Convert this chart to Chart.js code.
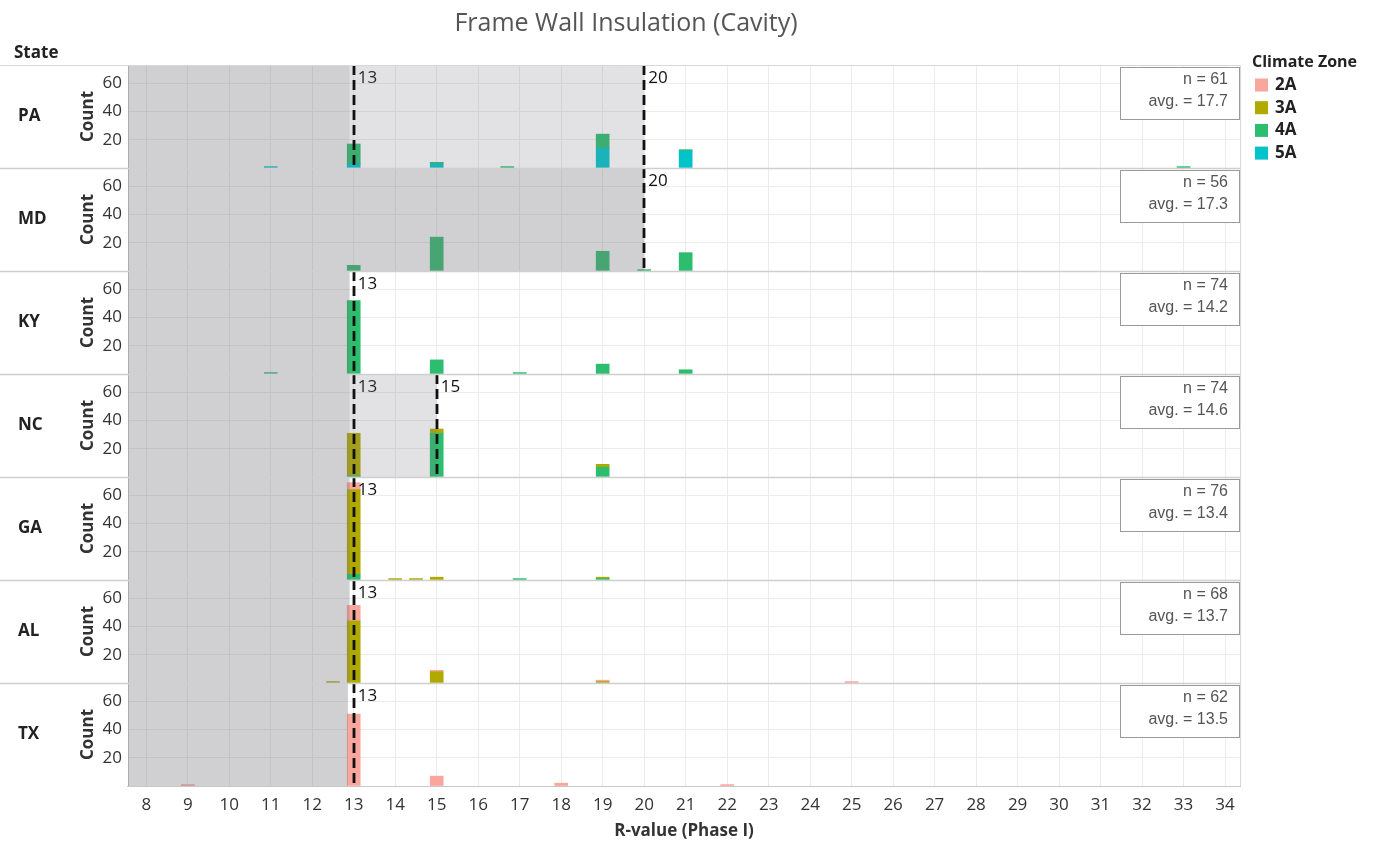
<!DOCTYPE html>
<html>
<head>
<meta charset="utf-8">
<title>Frame Wall Insulation (Cavity)</title>
<script src="https://cdn.jsdelivr.net/npm/chart.js@4.4.1/dist/chart.umd.min.js"></script>
<style>
  html, body { margin: 0; padding: 0; background: #fff; }
  #wrap { width: 1373px; height: 844px; position: relative; }
</style>
</head>
<body>
<div id="wrap"><canvas id="chart"></canvas></div>
<script>
// ---- data ----
const chartTitle = 'Frame Wall Insulation (Cavity)';
const states = ['PA', 'MD', 'KY', 'NC', 'GA', 'AL', 'TX'];
const zones = ['2A', '3A', '4A', '5A'];
const zoneColors = ['#f9a69d', '#b0a900', '#2dbd6e', '#00c4c9'];

// R-value bins that hold at least one home
const rBins = [9, 11, 12.5, 13, 14, 14.5, 15, 16.7, 17, 18, 19, 20, 21, 22, 25, 33];

// counts per climate zone (rows 2A, 3A, 4A, 5A), aligned with rBins
const countsPA = [
  [0, 0, 0, 0, 0, 0, 0, 0, 0, 0, 0, 0, 0, 0, 0, 0],
  [0, 0, 0, 0, 0, 0, 0, 0, 0, 0, 0, 0, 0, 0, 0, 0],
  [0, 0, 0, 14, 0, 0, 1, 1, 0, 0, 10, 0, 1, 0, 0, 1],
  [0, 1, 0, 3, 0, 0, 3, 0, 0, 0, 14, 0, 12, 0, 0, 0]
];
const countsMD = [
  [0, 0, 0, 0, 0, 0, 0, 0, 0, 0, 0, 0, 0, 0, 0, 0],
  [0, 0, 0, 0, 0, 0, 0, 0, 0, 0, 0, 0, 0, 0, 0, 0],
  [0, 0, 0, 4, 0, 0, 24, 0, 0, 0, 14, 1, 13, 0, 0, 0],
  [0, 0, 0, 0, 0, 0, 0, 0, 0, 0, 0, 0, 0, 0, 0, 0]
];
const countsKY = [
  [0, 0, 0, 0, 0, 0, 0, 0, 0, 0, 0, 0, 0, 0, 0, 0],
  [0, 0, 0, 0, 0, 0, 0, 0, 0, 0, 0, 0, 0, 0, 0, 0],
  [0, 1, 0, 52, 0, 0, 10, 0, 1, 0, 7, 0, 3, 0, 0, 0],
  [0, 0, 0, 0, 0, 0, 0, 0, 0, 0, 0, 0, 0, 0, 0, 0]
];
const countsNC = [
  [0, 0, 0, 0, 0, 0, 0, 0, 0, 0, 0, 0, 0, 0, 0, 0],
  [0, 0, 0, 30, 0, 0, 3, 0, 0, 0, 2, 0, 0, 0, 0, 0],
  [0, 0, 0, 1, 0, 0, 31, 0, 0, 0, 7, 0, 0, 0, 0, 0],
  [0, 0, 0, 0, 0, 0, 0, 0, 0, 0, 0, 0, 0, 0, 0, 0]
];
const countsGA = [
  [0, 0, 0, 5, 0, 0, 0, 0, 0, 0, 0, 0, 0, 0, 0, 0],
  [0, 0, 0, 60, 1, 1, 2, 0, 0, 0, 1, 0, 0, 0, 0, 0],
  [0, 0, 0, 4, 0, 0, 0, 0, 1, 0, 1, 0, 0, 0, 0, 0],
  [0, 0, 0, 0, 0, 0, 0, 0, 0, 0, 0, 0, 0, 0, 0, 0]
];
const countsAL = [
  [0, 0, 0, 11, 0, 0, 1, 0, 0, 0, 1, 0, 0, 0, 1, 0],
  [0, 0, 1, 44, 0, 0, 8, 0, 0, 0, 1, 0, 0, 0, 0, 0],
  [0, 0, 0, 0, 0, 0, 0, 0, 0, 0, 0, 0, 0, 0, 0, 0],
  [0, 0, 0, 0, 0, 0, 0, 0, 0, 0, 0, 0, 0, 0, 0, 0]
];
const countsTX = [
  [1, 0, 0, 51, 0, 0, 7, 0, 0, 2, 0, 0, 0, 1, 0, 0],
  [0, 0, 0, 0, 0, 0, 0, 0, 0, 0, 0, 0, 0, 0, 0, 0],
  [0, 0, 0, 0, 0, 0, 0, 0, 0, 0, 0, 0, 0, 0, 0, 0],
  [0, 0, 0, 0, 0, 0, 0, 0, 0, 0, 0, 0, 0, 0, 0, 0]
];
const countsByState = [countsPA, countsMD, countsKY, countsNC, countsGA, countsAL, countsTX];

// code minimum lines and shaded bands (R-value)
const refLines = [[13, 20], [20], [13], [13, 15], [13], [13], [13]];
const darkBandEnd = [12.9, 20, 12.9, 12.9, 12.9, 12.9, 12.86];
const lightBandEnd = [20, null, null, 15, null, null, null];

const nValues = [61, 56, 74, 74, 76, 68, 62];
const avgValues = [17.7, 17.3, 14.2, 14.6, 13.4, 13.7, 13.5];

const rTicks = [8, 9, 10, 11, 12, 13, 14, 15, 16, 17, 18, 19, 20, 21, 22, 23, 24, 25, 26, 27, 28, 29, 30, 31, 32, 33, 34];
const countTicks = [0, 20, 40, 60];

// ---- build datasets ----
const FONT = '"Open Sans", "Noto Sans", sans-serif';
Chart.defaults.font.family = FONT;
Chart.defaults.color = '#333';

const datasets = [];
states.forEach((st, si) => {
  // 5A at the bottom of each stack, 2A on top
  [3, 2, 1, 0].forEach(zi => {
    const pts = [];
    rBins.forEach((r, bi) => {
      const c = countsByState[si][zi][bi];
      if (c > 0) pts.push({ x: r, y: c });
    });
    if (!pts.length) return;
    datasets.push({
      label: zones[zi],
      data: pts,
      yAxisID: 'y' + st,
      stack: 'zones',
      backgroundColor: zoneColors[zi],
      borderWidth: 0,
      barThickness: 13
    });
  });
});

const scales = {
  x: {
    type: 'linear',
    position: 'bottom',
    min: 7.56,
    max: 34.36,
    offset: false,
    afterBuildTicks: s => { s.ticks = rTicks.map(v => ({ value: v })); },
    afterFit: s => { s.height = 58; },
    grid: { color: '#ececec', offset: false, drawTicks: false },
    border: { color: '#c8c8c8' },
    ticks: { padding: 9, autoSkip: false, maxRotation: 0, font: { size: 17 }, color: '#333' },
    title: { display: true, text: 'R-value (Phase I)', font: { size: 17, weight: 'bold' }, color: '#333', padding: { top: 0, bottom: 3 } }
  }
};
// stacked axes are placed bottom-up, so add the last state first
states.slice().reverse().forEach(st => {
  scales['y' + st] = {
    type: 'linear',
    position: 'left',
    stack: 'state',
    stackWeight: 1,
    stacked: true,
    min: 0,
    max: 73,
    afterBuildTicks: s => { s.ticks = countTicks.map(v => ({ value: v })); },
    afterFit: s => { s.width = 50; },
    grid: { color: '#ececec', drawTicks: false },
    border: { color: '#c8c8c8' },
    ticks: {
      padding: 6,
      autoSkip: false,
      font: { size: 17 },
      color: '#333',
      callback: v => (v === 0 ? '' : v)
    },
    title: { display: true, text: 'Count', font: { size: 17, weight: 'bold' }, color: '#333', padding: { top: 0, bottom: 0 } }
  };
});

// ---- facet decorations ----
const facetPlugin = {
  id: 'facets',
  afterDatasetsDraw(chart) {
    const { ctx, chartArea: a, scales: sc } = chart;
    const x = sc.x;
    states.forEach((st, i) => {
      const y = sc['y' + st];
      const top = y.top, bottom = y.bottom;
      ctx.save();
      // labels first, so the bands tint them like the original
      ctx.font = '17px ' + FONT;
      ctx.fillStyle = '#111';
      ctx.textBaseline = 'middle';
      refLines[i].forEach(v => ctx.fillText(String(v), x.getPixelForValue(v) + 4, top + 13));

      const xd = x.getPixelForValue(darkBandEnd[i]);
      ctx.fillStyle = 'rgba(120,120,128,0.35)';
      ctx.fillRect(a.left, top, xd - a.left, bottom - top);
      if (lightBandEnd[i] !== null) {
        const xl = x.getPixelForValue(lightBandEnd[i]);
        ctx.fillStyle = 'rgba(120,120,128,0.21)';
        ctx.fillRect(xd, top, xl - xd, bottom - top);
      }

      ctx.strokeStyle = '#111';
      ctx.lineWidth = 2.8;
      ctx.setLineDash([10, 5]);
      refLines[i].forEach(v => {
        const px = Math.round(x.getPixelForValue(v));
        ctx.beginPath();
        ctx.moveTo(px, top);
        ctx.lineTo(px, bottom);
        ctx.stroke();
      });
      ctx.restore();
    });
  },
  afterDraw(chart) {
    const { ctx, chartArea: a, scales: sc } = chart;
    ctx.save();

    // row separators and frame
    ctx.strokeStyle = '#cfcfcf';
    ctx.lineWidth = 1.5;
    states.forEach((st, i) => {
      const y = sc['y' + st];
      if (i > 0) {
        ctx.beginPath();
        ctx.moveTo(0, Math.round(y.top) + 0.5);
        ctx.lineTo(a.right, Math.round(y.top) + 0.5);
        ctx.stroke();
      }
    });
    ctx.strokeStyle = '#d8d8d8';
    ctx.lineWidth = 1;
    ctx.beginPath();
    ctx.moveTo(0, a.top + 0.5);
    ctx.lineTo(a.right + 0.5, a.top + 0.5);
    ctx.lineTo(a.right + 0.5, a.bottom);
    ctx.stroke();

    // title
    ctx.fillStyle = '#555';
    ctx.font = '25px ' + FONT;
    ctx.textAlign = 'center';
    ctx.textBaseline = 'middle';
    ctx.fillText(chartTitle, 626, 24);

    // state header and labels
    ctx.textAlign = 'left';
    ctx.fillStyle = '#222';
    ctx.font = 'bold 17px ' + FONT;
    ctx.fillText('State', 14, 53);
    states.forEach(st => {
      const y = sc['y' + st];
      ctx.fillText(st, 18, (y.top + y.bottom) / 2);
    });

    // n / avg boxes
    states.forEach((st, i) => {
      const y = sc['y' + st];
      const bx = a.right - 120, by = y.top + 2;
      ctx.fillStyle = '#fff';
      ctx.fillRect(bx, by, 119, 52);
      ctx.strokeStyle = '#9a9a9a';
      ctx.lineWidth = 1;
      ctx.strokeRect(bx + 0.5, by + 0.5, 119, 52);
      ctx.fillStyle = '#555';
      ctx.font = '16px "Liberation Sans", Arial, sans-serif';
      ctx.textAlign = 'right';
      ctx.fillText('n = ' + nValues[i], bx + 108, by + 13);
      ctx.fillText('avg. = ' + avgValues[i].toFixed(1), bx + 108, by + 35);
    });

    // legend
    ctx.textAlign = 'left';
    ctx.fillStyle = '#222';
    ctx.font = 'bold 16px ' + FONT;
    ctx.fillText('Climate Zone', 1252, 62);
    ctx.font = 'bold 17px ' + FONT;
    zones.forEach((z, i) => {
      const cy = 85 + i * 22.7;
      ctx.fillStyle = zoneColors[i];
      ctx.fillRect(1255, cy - 6.5, 13, 13);
      ctx.fillStyle = '#222';
      ctx.fillText(z, 1275, cy);
    });
    ctx.restore();
  }
};

new Chart(document.getElementById('chart'), {
  type: 'bar',
  data: { datasets },
  options: {
    responsive: true,
    maintainAspectRatio: false,
    animation: false,
    layout: { padding: { left: 78, top: 65, right: 133, bottom: 0 } },
    plugins: {
      legend: { display: false },
      title: { display: false },
      tooltip: { enabled: false }
    },
    scales
  },
  plugins: [facetPlugin]
});
</script>
</body>
</html>
